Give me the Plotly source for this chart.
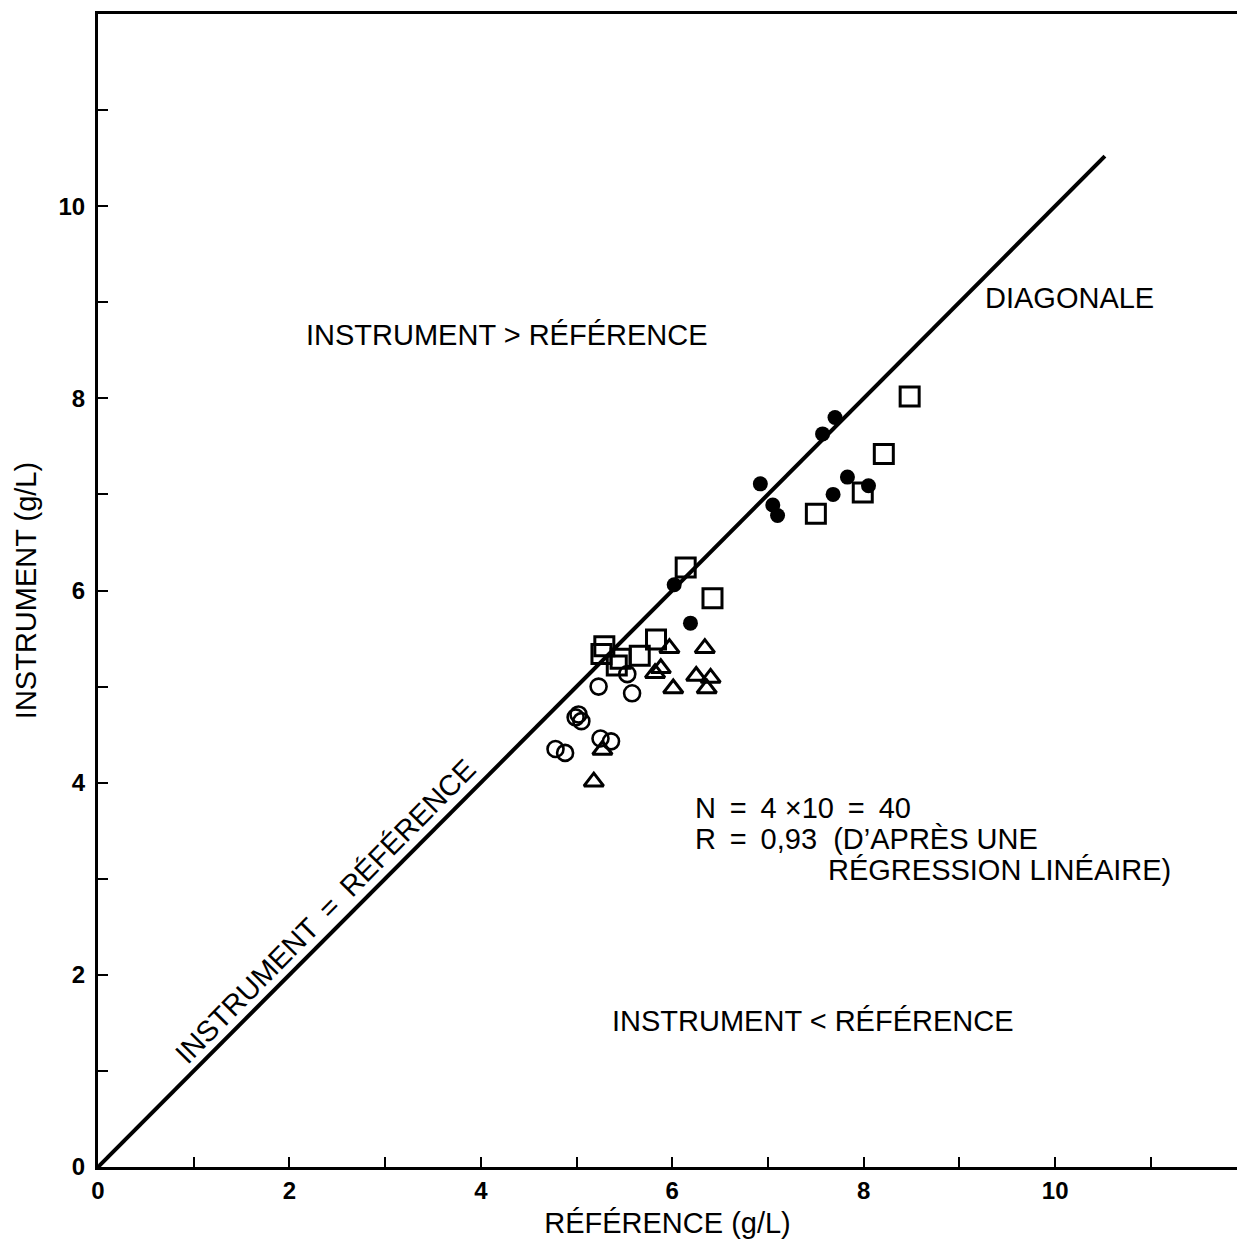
import plotly.graph_objects as go

# Four series of paired measurements (reference method vs instrument), g/L
filled_x = [7.70, 7.57, 6.92, 7.05, 7.10, 7.83, 7.68, 8.05, 6.02, 6.19]
filled_y = [7.80, 7.63, 7.11, 6.89, 6.78, 7.18, 7.00, 7.09, 6.06, 5.66]

square_x = [8.48, 8.21, 7.99, 7.50, 6.14, 6.42, 5.29, 5.26, 5.42, 5.46, 5.66, 5.83]
square_y = [8.02, 7.42, 7.02, 6.80, 6.24, 5.92, 5.42, 5.34, 5.22, 5.29, 5.32, 5.49]

triangle_x = [5.97, 6.34, 5.88, 5.82, 6.01, 6.25, 6.40, 6.36, 5.27, 5.18]
triangle_y = [5.40, 5.40, 5.19, 5.14, 4.98, 5.11, 5.09, 4.98, 4.34, 4.01]

open_x = [5.53, 5.23, 5.58, 5.02, 4.99, 5.05, 5.25, 5.36, 4.78, 4.88]
open_y = [5.13, 5.00, 4.93, 4.71, 4.68, 4.64, 4.46, 4.43, 4.35, 4.31]

# Identity line (instrument = reference)
diagonal = [0, 10.52]

tick_vals = list(range(12))
tick_text = [str(v) if v % 2 == 0 and v <= 10 else "" for v in tick_vals]

FONT = "Liberation Sans, Arial, Helvetica, sans-serif"
BLACK = "#000000"
TS = "\u2009"  # thin space around the equals signs

fig = go.Figure()

fig.add_trace(go.Scatter(
    x=diagonal, y=diagonal, mode="lines",
    line=dict(color=BLACK, width=4), hoverinfo="skip",
))
fig.add_trace(go.Scatter(
    x=open_x, y=open_y, mode="markers",
    marker=dict(symbol="circle-open", size=16, color=BLACK, line=dict(width=2.6)),
))
fig.add_trace(go.Scatter(
    x=triangle_x, y=triangle_y, mode="markers",
    marker=dict(symbol="triangle-up-open", size=17, color=BLACK, line=dict(width=3)),
))
fig.add_trace(go.Scatter(
    x=square_x, y=square_y, mode="markers",
    marker=dict(symbol="square-open", size=19, color=BLACK, line=dict(width=3)),
))
fig.add_trace(go.Scatter(
    x=filled_x, y=filled_y, mode="markers",
    marker=dict(symbol="circle", size=15, color=BLACK),
))

text_font = dict(family=FONT, size=29, color=BLACK)

annotations = [
    dict(x=4.27, y=8.66, text="INSTRUMENT &gt; RÉFÉRENCE", showarrow=False,
         xanchor="center", yanchor="middle", font=text_font),
    dict(x=10.15, y=9.04, text="DIAGONALE", showarrow=False,
         xanchor="center", yanchor="middle", font=text_font),
    dict(x=7.47, y=1.52, text="INSTRUMENT &lt; RÉFÉRENCE", showarrow=False,
         xanchor="center", yanchor="middle", font=text_font),
    dict(x=2.38, y=2.66, text=f"INSTRUMENT {TS}={TS} RÉFÉRENCE", showarrow=False,
         textangle=-45.4, xanchor="center", yanchor="middle", font=text_font),
    dict(x=6.22, y=3.74, text=f"N {TS}={TS} 4 ×10 {TS}={TS} 40", showarrow=False,
         xanchor="left", yanchor="middle", font=text_font),
    dict(x=6.22, y=3.41, text=f"R {TS}={TS} 0,93  (D’APRÈS UNE", showarrow=False,
         xanchor="left", yanchor="middle", font=text_font),
    dict(x=7.61, y=3.09, text="RÉGRESSION LINÉAIRE)", showarrow=False,
         xanchor="left", yanchor="middle", font=text_font),
]

axis_common = dict(
    tickmode="array", tickvals=tick_vals, ticktext=tick_text,
    ticks="inside", ticklen=10, tickwidth=2.4, tickcolor=BLACK,
    showline=True, linecolor=BLACK, linewidth=3,
    showgrid=False, zeroline=False,
    tickfont=dict(family=FONT, size=24, color=BLACK, weight="bold"),
    title_font=dict(family=FONT, size=29, color=BLACK),
)

fig.update_layout(
    width=1237, height=1245,
    margin=dict(l=98, r=0, t=14, b=78),
    paper_bgcolor="white", plot_bgcolor="white",
    showlegend=False,
    annotations=annotations,
    xaxis=dict(range=[0, 11.9], mirror=True,
               title=dict(text="RÉFÉRENCE (g/L)", standoff=10), **axis_common),
    yaxis=dict(range=[0, 12.0], ticklabelstandoff=5,
               title=dict(text="INSTRUMENT (g/L)", standoff=14), **axis_common),
)

fig.write_html("out.html")
